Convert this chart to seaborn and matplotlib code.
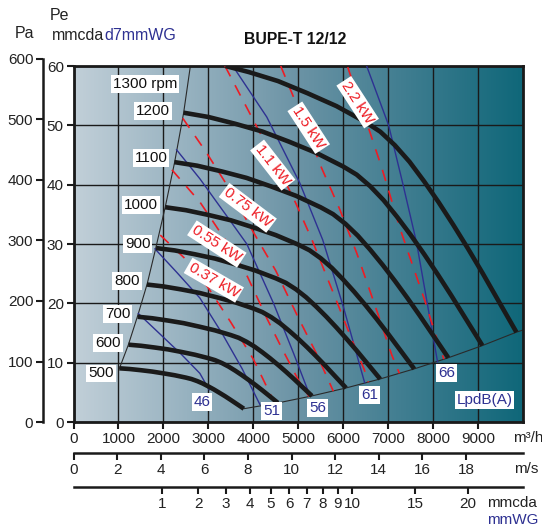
import numpy as np
import matplotlib
matplotlib.use('Agg')
import matplotlib.pyplot as plt
import seaborn as sns
from matplotlib.colors import LinearSegmentedColormap

# ---- fan curves: airflow Q (m3/h) vs static pressure Pe (mmcda)
rpm_values = [500, 600, 700, 800, 900, 1000, 1100, 1200, 1300]

q_500 = [1020, 1250, 1500, 1750, 2000, 2250, 2500, 2625, 2750, 2875, 3000, 3125, 3250, 3375, 3500, 3650, 3790]
p_500 = [9.05, 8.93, 8.73, 8.5, 8.2, 7.88, 7.48, 7.24, 6.9, 6.49, 6.0, 5.48, 4.91, 4.33, 3.71, 2.95, 2.24]
q_600 = [1224, 1500, 1800, 2100, 2400, 2700, 3000, 3150, 3300, 3450, 3600, 3750, 3900, 4050, 4200, 4380, 4548]
p_600 = [13.03, 12.85, 12.56, 12.24, 11.81, 11.34, 10.76, 10.42, 9.94, 9.34, 8.64, 7.88, 7.07, 6.23, 5.35, 4.25, 3.22]
q_700 = [1428, 1750, 2100, 2450, 2800, 3150, 3500, 3675, 3850, 4025, 4200, 4375, 4550, 4725, 4900, 5110, 5306]
p_700 = [17.74, 17.49, 17.10, 16.66, 16.07, 15.44, 14.65, 14.19, 13.52, 12.72, 11.76, 10.73, 9.63, 8.48, 7.28, 5.78, 4.39]
q_800 = [1632, 2000, 2400, 2800, 3200, 3600, 4000, 4200, 4400, 4600, 4800, 5000, 5200, 5400, 5600, 5840, 6064]
p_800 = [23.17, 22.85, 22.34, 21.76, 20.99, 20.16, 19.14, 18.53, 17.66, 16.61, 15.36, 14.02, 12.58, 11.07, 9.50, 7.55, 5.73]
q_900 = [1836, 2250, 2700, 3150, 3600, 4050, 4500, 4725, 4950, 5175, 5400, 5625, 5850, 6075, 6300, 6570, 6822]
p_900 = [29.32, 28.92, 28.27, 27.54, 26.57, 25.52, 24.22, 23.45, 22.36, 21.02, 19.44, 17.74, 15.92, 14.01, 12.03, 9.56, 7.25]
q_1000 = [2040, 2500, 3000, 3500, 4000, 4500, 5000, 5250, 5500, 5750, 6000, 6250, 6500, 6750, 7000, 7300, 7580]
p_1000 = [36.2, 35.7, 34.9, 34.0, 32.8, 31.5, 29.9, 28.95, 27.6, 25.95, 24.0, 21.9, 19.65, 17.3, 14.85, 11.8, 8.95]
q_1100 = [2244, 2750, 3300, 3850, 4400, 4950, 5500, 5775, 6050, 6325, 6600, 6875, 7150, 7425, 7700, 8030, 8338]
p_1100 = [43.80, 43.20, 42.23, 41.14, 39.69, 38.12, 36.18, 35.03, 33.40, 31.40, 29.04, 26.50, 23.78, 20.93, 17.97, 14.28, 10.83]
q_1200 = [2448, 3000, 3600, 4200, 4800, 5400, 6000, 6300, 6600, 6900, 7200, 7500, 7800, 8100, 8400, 8760, 9096]
p_1200 = [52.13, 51.41, 50.26, 48.96, 47.23, 45.36, 43.06, 41.69, 39.74, 37.37, 34.56, 31.54, 28.30, 24.91, 21.38, 16.99, 12.89]
q_1300 = [3380, 3900, 4550, 5200, 5850, 6500, 6825, 7150, 7475, 7800, 8125, 8450, 8775, 9100, 9490, 9854]
p_1300 = [60.0, 58.98, 57.46, 55.43, 53.24, 50.53, 48.93, 46.64, 43.86, 40.56, 37.01, 33.21, 29.24, 25.10, 19.94, 15.13]

# limit lines
stall_q = [1020, 1220, 1440, 1640, 1830, 2040, 2250, 2450, 2600]
stall_p = [9.0, 13.0, 18.2, 23.3, 29.3, 36.2, 43.8, 52.1, 60.0]
limit_q = [3790, 4550, 5300, 6060, 6820, 7580, 8340, 9100, 9850, 10000]
limit_p = [2.24, 3.22, 4.39, 5.73, 7.25, 8.95, 10.83, 12.89, 15.13, 15.5]

# absorbed power lines (kW)
kw_names = ['0.37 kW', '0.55 kW', '0.75 kW', '1.1 kW', '1.5 kW', '2.2 kW']
kw037_q = [1930, 2500, 3000, 3500, 4000, 4480]
kw037_p = [31.5, 27.4, 22.6, 16.8, 10.6, 3.1]
kw055_q = [2190, 2810, 3350, 3870, 4300, 4630, 5000, 5240]
kw055_p = [42.5, 37.1, 31.0, 24.5, 17.5, 12.5, 7.1, 4.3]
kw075_q = [2430, 2950, 3450, 4000, 4500, 5000, 5400, 5780]
kw075_p = [51.2, 45.5, 39.5, 32.0, 25.5, 17.6, 11.6, 5.2]
kw110_q = [3370, 3750, 4110, 4550, 4950, 5300, 5650, 5920, 6180, 6470, 6560]
kw110_p = [60.0, 54.5, 49.3, 43.0, 36.8, 30.8, 24.2, 19.1, 14.1, 8.8, 6.7]
kw150_q = [4610, 5100, 5520, 5920, 6300, 6590, 6850, 7080, 7250]
kw150_p = [60.0, 51.0, 42.8, 35.9, 28.5, 22.2, 16.5, 11.3, 8.2]
kw220_q = [6100, 6500, 6860, 7260, 7540, 7810, 8050, 8240]
kw220_p = [59.8, 51.0, 42.8, 32.7, 26.5, 20.6, 14.8, 10.6]

# sound level lines LpdB(A)
db_names = ['46', '51', '56', '61', '66']
db46_q = [1440, 1900, 2400, 2811, 3020]
db46_p = [18.3, 15.0, 11.4, 8.2, 5.4]
db51_q = [1810, 2300, 2811, 3300, 3750, 4150]
db51_p = [29.2, 25.2, 20.9, 15.0, 9.0, 2.9]
db56_q = [2290, 2811, 3478, 3856, 4450, 4900, 5256]
db56_p = [45.9, 41.0, 34.0, 30.0, 20.0, 11.5, 4.5]
db61_q = [3544, 4300, 5033, 5544, 6000, 6478]
db61_p = [60.0, 51.4, 40.3, 30.7, 19.5, 6.6]
db66_q = [6522, 7011, 7322, 7633, 7856, 8100]
db66_p = [60.0, 50.0, 40.3, 30.2, 20.6, 10.1]

# axis scales
flow_ticks = list(range(0, 10000, 1000))
pe_ticks = list(range(0, 61, 10))
pa_ticks = list(range(0, 601, 100))
speed_ticks = list(range(0, 19, 2))
dyn_ticks = [1, 2, 3, 4, 5, 6, 7, 8, 9, 10, 15, 20]
m3h_per_ms = 485.0     # outlet section
ms2_per_mm = 16.35     # v^2 / Pd

curves_q = dict(zip(rpm_values, [q_500, q_600, q_700, q_800, q_900, q_1000, q_1100, q_1200, q_1300]))
curves_p = dict(zip(rpm_values, [p_500, p_600, p_700, p_800, p_900, p_1000, p_1100, p_1200, p_1300]))
kw_lines = list(zip([kw037_q, kw055_q, kw075_q, kw110_q, kw150_q, kw220_q],
                    [kw037_p, kw055_p, kw075_p, kw110_p, kw150_p, kw220_p]))
db_lines = list(zip([db46_q, db51_q, db56_q, db61_q, db66_q],
                    [db46_p, db51_p, db56_p, db61_p, db66_p]))

# ---- figure
sns.set_theme(style='white')
plt.rcParams['font.family'] = ['Liberation Sans', 'DejaVu Sans']

W, H = 542, 528
RED = '#ed1c24'
BLUE = '#2e3192'
INK = '#1a1a1a'


def fx(px):
    return px / W


def fy(py):
    return 1 - py / H


fig = plt.figure(figsize=(W / 100, H / 100), dpi=100)
ax = fig.add_axes([fx(73.5), fy(422), (523 - 73.5) / W, (422 - 66) / H])
ax.set_xlim(0, 10000)
ax.set_ylim(0, 60)

bg = LinearSegmentedColormap.from_list(
    'bg', ['#c1cfd8', '#97b2c0', '#6b93a5', '#3d7c8f', '#0f6779'])
ax.imshow(np.linspace(0, 1, 256)[None, :], extent=[0, 10000, 0, 60],
          aspect='auto', cmap=bg, zorder=0, interpolation='bilinear')

ax.set_xticks(flow_ticks)
ax.set_yticks(pe_ticks)
ax.set_axisbelow(True)
ax.grid(True, color=INK, lw=1.0)
for s in ax.spines.values():
    s.set_color(INK)
    s.set_linewidth(2)
ax.tick_params(axis='both', bottom=True, left=True, direction='out', length=5,
               width=1.5, color=INK, labelsize=11, labelcolor='#222', pad=2)

# limit lines
sns.lineplot(x=stall_q, y=stall_p, ax=ax, color='#2a2a2a', lw=0.8, sort=False, zorder=2)
sns.lineplot(x=limit_q, y=limit_p, ax=ax, color='#2a2a2a', lw=0.8, sort=False, zorder=2)

# sound lines
for q, p in db_lines:
    sns.lineplot(x=q, y=p, ax=ax, color=BLUE, lw=1.0, sort=False, zorder=3)

# power lines
for q, p in kw_lines:
    sns.lineplot(x=q, y=p, ax=ax, color=RED, lw=1.2, sort=False, zorder=3.5,
                 linestyle=(0, (7, 6)))

# fan curves
for n in rpm_values:
    sns.lineplot(x=curves_q[n], y=curves_p[n], ax=ax, color=INK, lw=3.3,
                 sort=False, zorder=4, solid_capstyle='butt',
                 solid_joinstyle='round')

ax.set_xlabel('')
ax.set_ylabel('')

box = dict(boxstyle='square,pad=0.12', fc='white', ec='none')

rpm_text = ['500', '600', '700', '800', '900', '1000', '1100', '1200', '1300 rpm']
rpm_lab_x = [611, 767, 989, 1189, 1433, 1500, 1722, 1767, 1589]
rpm_lab_y = [8.2, 13.3, 18.2, 23.8, 30.0, 36.6, 44.5, 52.4, 57.0]
for t, x, y in zip(rpm_text, rpm_lab_x, rpm_lab_y):
    ax.text(x, y, t, ha='center', va='center', fontsize=11, color='#111',
            bbox=box, zorder=6)

kw_lab_x = [3122, 3189, 3878, 4433, 5233, 6322]
kw_lab_y = [23.9, 30.0, 36.1, 43.3, 49.6, 53.9]
kw_rot = [-30, -33, -37, -52, -57, -57]
for t, x, y, r in zip(kw_names, kw_lab_x, kw_lab_y, kw_rot):
    ax.text(x, y, t, ha='center', va='center', fontsize=11, color=RED,
            rotation=r, rotation_mode='anchor', bbox=box, zorder=6)

db_lab_x = [2856, 4411, 5433, 6589, 8300]
db_lab_y = [3.4, 1.85, 2.4, 4.55, 8.3]
for t, x, y in zip(db_names, db_lab_x, db_lab_y):
    ax.text(x, y, t, ha='center', va='center', fontsize=11, color=BLUE,
            bbox=box, zorder=6)
ax.text(9144, 3.7, 'LpdB(A)', ha='center', va='center', fontsize=11,
        color=BLUE, bbox=box, zorder=6)

# ---- Pa axis
ax_pa = fig.add_axes([fx(43), fy(422), 0.0001, (422 - 59) / H])
ax_pa.set_ylim(0, 600)
ax_pa.set_yticks(pa_ticks)
ax_pa.set_xticks([])
ax_pa.patch.set_visible(False)
for s in ['top', 'right', 'bottom']:
    ax_pa.spines[s].set_visible(False)
ax_pa.spines['left'].set_color(INK)
ax_pa.spines['left'].set_linewidth(1.8)
ax_pa.tick_params(axis='y', left=True, direction='out', length=5, width=1.5,
                  color=INK, labelsize=11, labelcolor='#222', pad=2)

# ---- speed axis (m/s)
ax_v = fig.add_axes([fx(73.5), fy(453), (523 - 73.5) / W, 0.0001])
ax_v.set_xlim(0, 10000 / m3h_per_ms)
ax_v.set_xticks(speed_ticks)
ax_v.set_yticks([])
ax_v.patch.set_visible(False)
for s in ['top', 'left', 'right']:
    ax_v.spines[s].set_visible(False)
ax_v.spines['bottom'].set_color(INK)
ax_v.spines['bottom'].set_linewidth(1.8)
ax_v.tick_params(axis='x', bottom=True, direction='out', length=5, width=1.5,
                 color=INK, labelsize=11, labelcolor='#222', pad=2)

# ---- dynamic pressure axis (mmcda)
ax_d = fig.add_axes([fx(73.5), fy(487), (523 - 73.5) / W, 0.0001])
ax_d.set_xscale('function', functions=(lambda d: np.sqrt(np.clip(d, 0, None)),
                                       lambda s: np.square(s)))
ax_d.set_xlim(0, (10000 / m3h_per_ms) ** 2 / ms2_per_mm)
ax_d.set_xticks(dyn_ticks)
ax_d.set_xticklabels([str(t) for t in dyn_ticks])
ax_d.set_yticks([])
ax_d.patch.set_visible(False)
for s in ['top', 'left', 'right']:
    ax_d.spines[s].set_visible(False)
ax_d.spines['bottom'].set_color(INK)
ax_d.spines['bottom'].set_linewidth(1.8)
ax_d.tick_params(axis='x', bottom=True, direction='out', length=5, width=1.5,
                 color=INK, labelsize=11, labelcolor='#222', pad=2)
ax_d.minorticks_off()

# ---- loose texts
fig.text(fx(513), fy(438), 'm³/h', ha='left', va='center', fontsize=11, color='#222')
fig.text(fx(514), fy(469), 'm/s', ha='left', va='center', fontsize=11, color='#222')
fig.text(fx(487), fy(503), 'mmcda', ha='left', va='center', fontsize=11, color='#222')
fig.text(fx(487), fy(520), 'mmWG', ha='left', va='center', fontsize=11, color=BLUE)

fig.text(fx(15), fy(33), 'Pa', ha='left', va='center', fontsize=11.5, color='#222')
fig.text(fx(50), fy(16), 'Pe', ha='left', va='center', fontsize=11.5, color='#222')
t1 = fig.text(fx(52), fy(36), 'mmcda', ha='left', va='center', fontsize=11.5, color='#222')
fig.canvas.draw()
bb = t1.get_window_extent()
fig.text(bb.x1 / fig.bbox.width, fy(36), 'd7mmWG', ha='left', va='center',
         fontsize=11.5, color=BLUE)

fig.text(fx(295), fy(40), 'BUPE-T 12/12', ha='center', va='center',
         fontsize=11.3, weight='bold', color='#111')

fig.savefig('out.png', dpi=100)
